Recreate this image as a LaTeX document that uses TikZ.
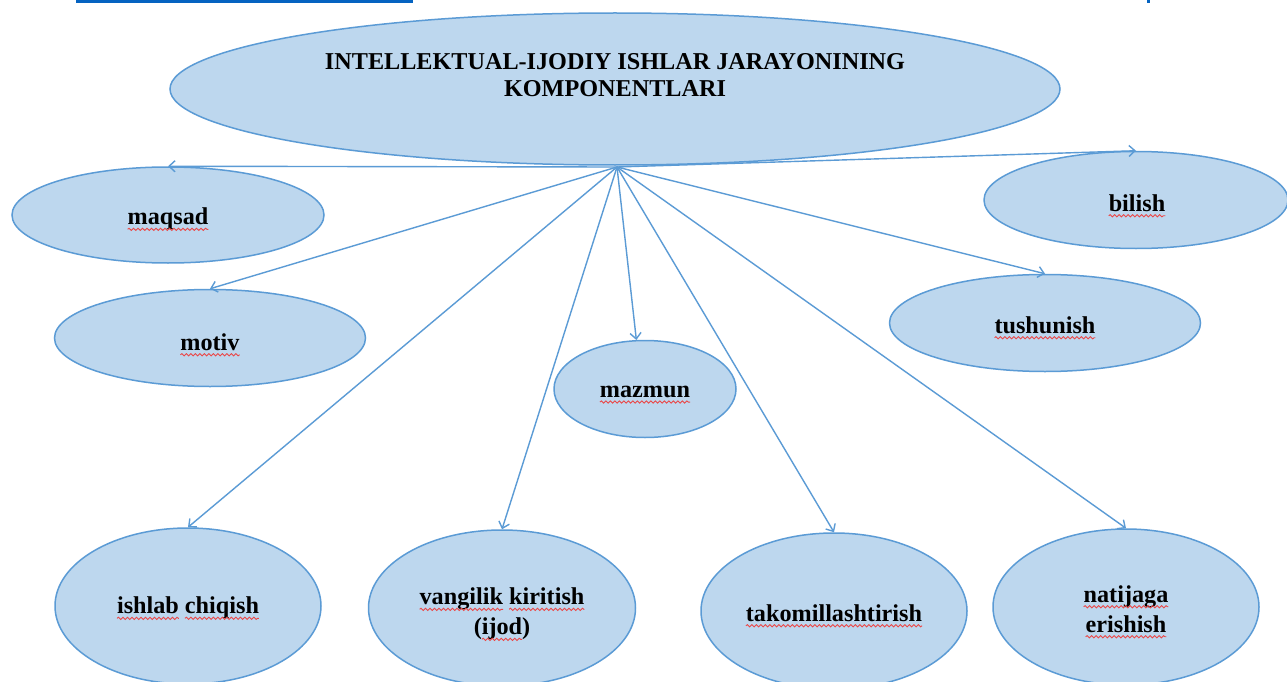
\documentclass[tikz,border=0pt]{standalone}
\usepackage{fontspec}
\setmainfont{Liberation Serif}
\usetikzlibrary{shapes.geometric,arrows.meta,decorations.pathmorphing}
\definecolor{efill}{RGB}{189,215,238}
\definecolor{eline}{RGB}{91,155,213}
\definecolor{linkblue}{RGB}{5,99,193}
\definecolor{squigred}{RGB}{235,70,70}
\newcommand\rw[1]{\tikz[baseline=(w.base)]{\node[shape=rectangle,draw=none,fill=none,inner sep=0pt,outer sep=0pt,minimum width=0pt,minimum height=0pt,text=black,anchor=base](w){#1};\draw[overlay,draw=squigred,fill=none,line width=0.9pt,decorate,decoration={snake,amplitude=1.1pt,segment length=4.5pt}]([yshift=-4.5pt]w.base west)--([yshift=-4.5pt]w.base east);}}
\tikzset{
  comp/.style={ellipse, draw=eline, fill=efill, line width=1.5pt, inner sep=0pt},
  small/.style={comp, minimum width=312, minimum height=96},
  big/.style={comp, minimum width=266, minimum height=156},
  lbl/.style={font=\bfseries\fontsize{24.2}{30}\selectfont, align=center, text=black, inner sep=0pt},
  conn/.style={draw=eline, line width=1.4pt, -{Straight Barb[length=6pt,width=11pt]}},
  titletext/.style={font=\bfseries\fontsize{24.2}{27}\selectfont, align=center, text=black}
}
\begin{document}
\begin{tikzpicture}[x=1pt,y=-1pt]
\path[use as bounding box, clip] (0,0) rectangle (1287,682);
\fill[white] (0,0) rectangle (1287,682);
\fill[linkblue] (76,0) rectangle (413,3.5);
\fill[linkblue] (1147,0) rectangle (1150,3);
% top
\node[comp, minimum width=890, minimum height=152] (top) at (615,89) {};
\node[titletext] (title) at (615,75.5) {INTELLEKTUAL-IJODIY ISHLAR JARAYONINING\\KOMPONENTLARI};
\coordinate (hub) at (617,167);
% components
\node[small] (maqsad) at (168,215) {};
\node[small, minimum width=304, minimum height=97] (bilish) at (1136,200) {};
\node[small, minimum width=311, minimum height=97] (motiv) at (210,338) {};
\node[small, minimum width=311, minimum height=97] (tushunish) at (1045,323) {};
\node[comp, minimum width=182, minimum height=97] (mazmun) at (645,389) {};
\node[big] (ishlab) at (188,606) {};
\node[big, minimum width=267] (yangi) at (502,608) {};
\node[big] (takom) at (834,611) {};
\node[big] (natija) at (1126,607) {};
% labels
\node[lbl] (lmaqsad) at (168,219) {\rw{maqsad}};
\node[lbl] (lbilish) at (1137,203) {\rw{bilish}};
\node[lbl] (lmotiv) at (210,342) {\rw{motiv}};
\node[lbl] (ltushunish) at (1045,325) {\rw{tushunish}};
\node[lbl] (lmazmun) at (645,392) {\rw{mazmun}};
\node[lbl] (lishlab) at (188,608) {\rw{ishlab} \rw{chiqish}};
\node[lbl] (lyangi) at (502,614) {\rw{vangilik} \rw{kiritish}\\(\rw{ijod})};
\node[lbl] (ltakom) at (834,613) {\rw{takomillashtirish}};
\node[lbl] (lnatija) at (1126,609) {\rw{natijaga}\\\rw{erishish}};
% connectors
\draw[conn] (hub) -- (maqsad.north);
\draw[conn] (hub) -- (bilish.north);
\draw[conn] (hub) -- (motiv.north);
\draw[conn] (hub) -- (tushunish.north);
\draw[conn] (hub) -- (mazmun.100);
\draw[conn] (hub) -- (ishlab.north);
\draw[conn] (hub) -- (yangi.north);
\draw[conn] (hub) -- (takom.north);
\draw[conn] (hub) -- (natija.north);
\end{tikzpicture}
\end{document}
